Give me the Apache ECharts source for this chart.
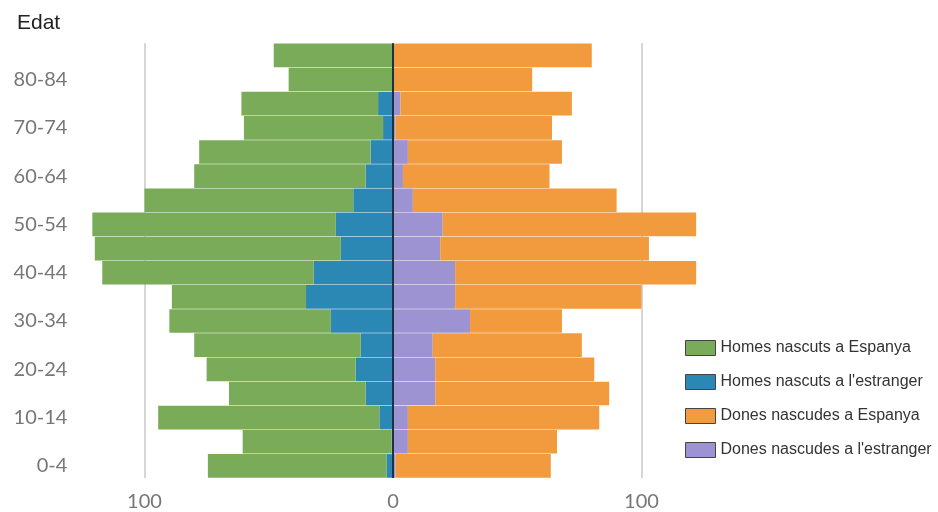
<!DOCTYPE html>
<html>
<head>
<meta charset="utf-8">
<script src="https://cdn.jsdelivr.net/npm/echarts@6/dist/echarts.min.js"></script>
<style>
html,body{margin:0;padding:0;background:#fff;}
#chart{width:938px;height:512px;}
</style>
</head>
<body>
<div id="chart"></div>
<script>
// Age groups, bottom to top
const categories = ['0-4','5-9','10-14','15-19','20-24','25-29','30-34','35-39','40-44','45-49','50-54','55-59','60-64','65-69','70-74','75-79','80-84','85+'];
// Men born in Spain
const homesEspanya = [72, 60, 89, 55, 60, 67, 65, 54, 85, 99, 98, 84, 69, 69, 56, 55, 42, 48];
// Men born abroad
const homesEstranger = [2.5, 0.5, 5.5, 11, 15, 13, 25, 35, 32, 21, 23, 16, 11, 9, 4, 6, 0, 0];
// Women born in Spain
const donesEspanya = [62.5, 60, 77, 70, 64, 60, 37, 75, 97, 84, 102, 82, 59, 62, 63, 69, 56, 80];
// Women born abroad
const donesEstranger = [1, 6, 6, 17, 17, 16, 31, 25, 25, 19, 20, 8, 4, 6, 1, 3, 0, 0];
const seriesNames = ['Homes nascuts a Espanya', 'Homes nascuts a l\'estranger', 'Dones nascudes a Espanya', 'Dones nascudes a l\'estranger'];
const colors = ['#79ab58', '#2b87b4', '#f29b3e', '#9d93d2'];
const gridTicks = [-100, 100];

const chart = echarts.init(document.getElementById('chart'));
const neg = a => a.map(v => -v);
const barBase = {type: 'bar', barCategoryGap: '2%', barGap: '-100%'};
chart.setOption({
  animation: false,
  title: {text: 'Edat', left: 12, top: 8, textStyle: {fontFamily: 'Liberation Sans', fontSize: 21, fontWeight: 'normal', color: '#222'}},
  grid: {left: 82.4, right: 234.4, top: 43.3, bottom: 31.3},
  legend: {
    orient: 'vertical', left: 680, top: 335, itemWidth: 30, itemHeight: 15, itemGap: 18,
    icon: 'rect',
    data: seriesNames,
    textStyle: {fontFamily: 'Liberation Sans', fontSize: 16, color: '#333'},
    itemStyle: {borderColor: '#444', borderWidth: 1}
  },
  xAxis: {
    type: 'value', min: -125, max: 125, interval: 25,
    axisLine: {show: false}, axisTick: {show: false}, splitLine: {show: false},
    axisLabel: {
      margin: 14, fontFamily: 'Lato', fontSize: 20, color: '#777',
      formatter: v => (v === 0 || Math.abs(v) === 100) ? String(Math.abs(v)) : ''
    }
  },
  yAxis: {
    type: 'category', data: categories,
    axisLine: {show: false}, axisTick: {show: false},
    axisLabel: {interval: 1, margin: 15, fontFamily: 'Lato', fontSize: 20, color: '#777'}
  },
  series: [
    {type: 'line', data: [], z: 0, silent: true,
     markLine: {silent: true, z: 0, symbol: 'none', label: {show: false},
       lineStyle: {color: '#c8c8c8', width: 1.5, type: 'solid'},
       data: gridTicks.map(v => ({xAxis: v}))}},
    Object.assign({}, barBase, {name: seriesNames[1], stack: 'men', data: neg(homesEstranger), itemStyle: {color: colors[1]}, z: 2}),
    Object.assign({}, barBase, {name: seriesNames[0], stack: 'men', data: neg(homesEspanya), itemStyle: {color: colors[0]}, z: 2}),
    Object.assign({}, barBase, {name: seriesNames[3], stack: 'women', data: donesEstranger, itemStyle: {color: colors[3]}, z: 2}),
    Object.assign({}, barBase, {name: seriesNames[2], stack: 'women', data: donesEspanya, itemStyle: {color: colors[2]}, z: 2,
      markLine: {silent: true, z: 5, symbol: 'none', label: {show: false},
        lineStyle: {color: '#1c3344', width: 2, type: 'solid'},
        data: [{xAxis: 0}]}})
  ]
});
</script>
</body>
</html>
